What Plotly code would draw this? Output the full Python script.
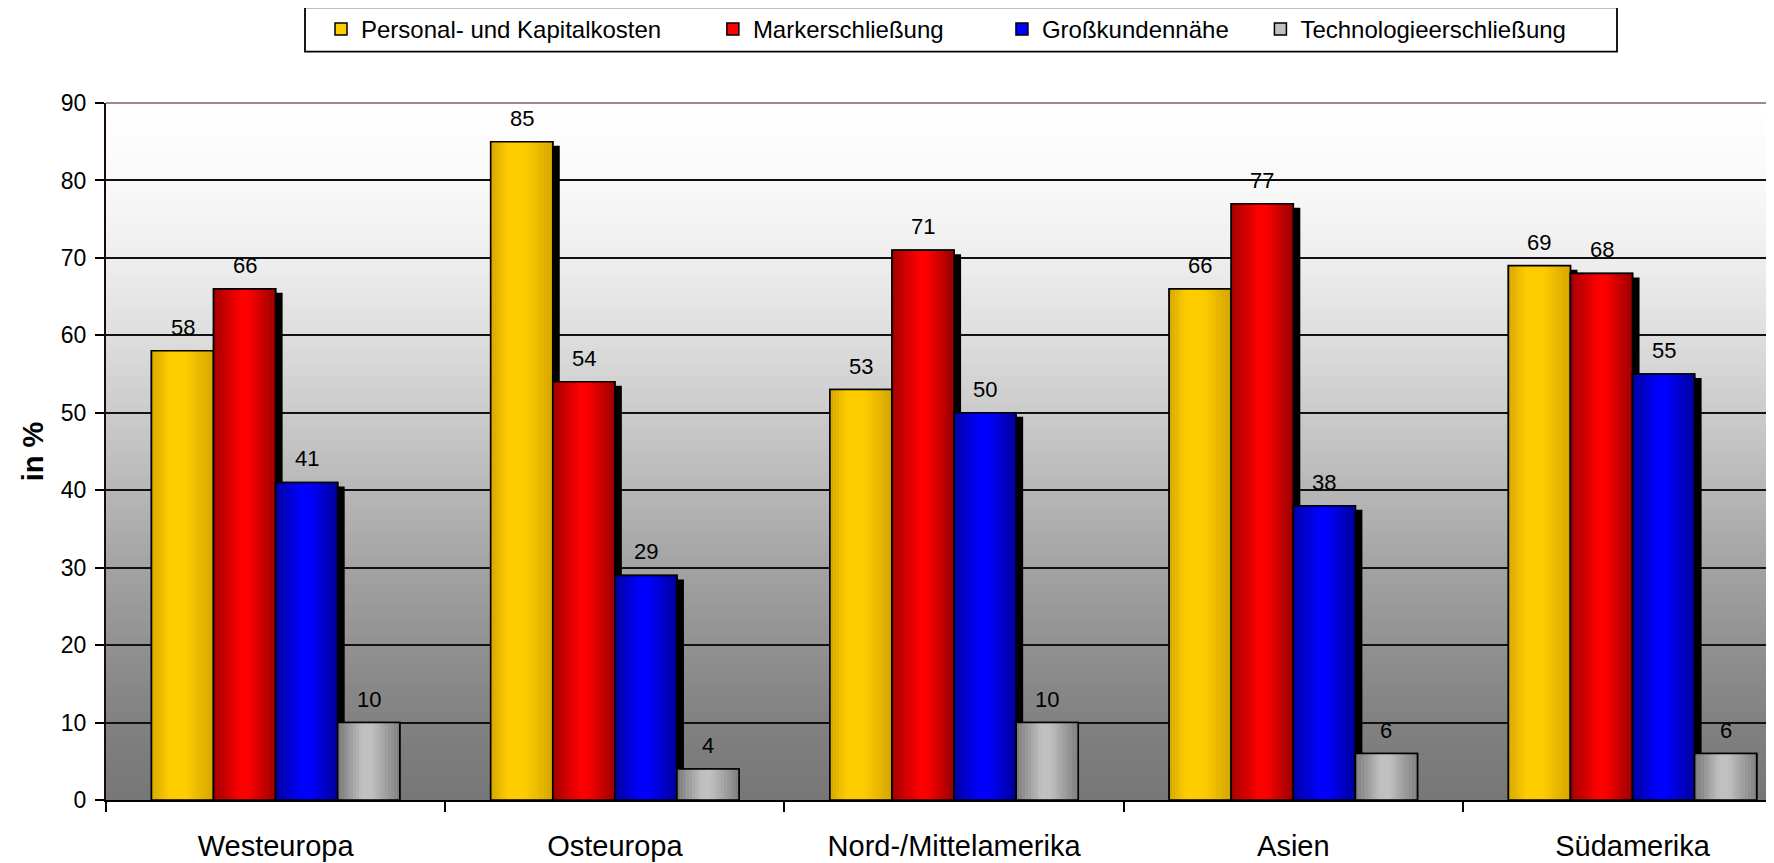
import plotly.graph_objects as go

# ---------------- data ----------------
categories = ["Westeuropa", "Osteuropa", "Nord-/Mittelamerika", "Asien", "Südamerika"]
series_names = ["Personal- und Kapitalkosten", "Markerschließung", "Großkundennähe", "Technologieerschließung"]
personal = [58, 85, 53, 66, 69]
markt = [66, 54, 71, 77, 68]
gross = [41, 29, 50, 38, 55]
tech = [10, 4, 10, 6, 6]
y_tickvals = [0, 10, 20, 30, 40, 50, 60, 70, 80, 90]
y_title = "in %"

values = [personal, markt, gross, tech]

# ---------------- layout geometry / styles ----------------
# page body has an 8px margin, so the figure is offset by 8px in the window
W, H = 1766, 855
ML, MR, MT, MB = 98, 0, 95, 63
X_RANGE = [-0.5, 4.417]
Y_RANGE = [0, 90]
PLOT_W = W - ML - MR
PLOT_H = H - MT - MB
px_per_cat = PLOT_W / (X_RANGE[1] - X_RANGE[0])
px_per_unit = PLOT_H / (Y_RANGE[1] - Y_RANGE[0])

BAR_W = 0.183
GROUP_START = -0.366
N_STRIPES = 20
SHADOW_DX = 7 / px_per_cat
SHADOW_DY = 4 / px_per_unit
FONT = "Liberation Sans, Arial, sans-serif"
LEGEND_PAD = [7, 8, 4, 0]  # trailing spaces between legend entries
LEGEND_BOX_PX = (297, 1609, -0.7, 43.7)  # x0, x1, y0(top), y1(bottom) in figure pixels

gradients = [
    [(0.0, (212, 166, 0)), (0.28, (255, 204, 0)), (0.55, (255, 204, 0)), (1.0, (210, 164, 0))],
    [(0.0, (160, 0, 0)), (0.45, (255, 0, 0)), (0.55, (255, 0, 0)), (1.0, (150, 0, 0))],
    [(0.0, (0, 0, 160)), (0.42, (0, 0, 255)), (0.55, (0, 0, 255)), (1.0, (0, 0, 150))],
    [(0.0, (120, 120, 120)), (0.4, (192, 192, 192)), (0.55, (192, 192, 192)), (1.0, (125, 125, 125))],
]
base_colors = ["#FFCC00", "#FF0000", "#0000FF", "#C0C0C0"]
has_shadow = [True, True, True, False]

bg_stops = [(0.0, 119), (0.111, 129), (0.222, 145), (0.333, 163), (0.444, 183),
            (0.556, 203), (0.667, 222), (0.778, 238), (0.889, 249), (1.0, 255)]


def interp(stops, t):
    for (t0, c0), (t1, c1) in zip(stops[:-1], stops[1:]):
        if t0 <= t <= t1:
            f = (t - t0) / (t1 - t0) if t1 > t0 else 0
            if isinstance(c0, tuple):
                return "rgb(%d,%d,%d)" % tuple(round(a + (b - a) * f) for a, b in zip(c0, c1))
            return round(c0 + (c1 - c0) * f)
    last = stops[-1][1]
    return "rgb(%d,%d,%d)" % last if isinstance(last, tuple) else last


fig = go.Figure()

for i, (name, vals) in enumerate(zip(series_names, values)):
    off = GROUP_START + i * BAR_W
    if has_shadow[i]:
        fig.add_bar(x=categories, y=[v - SHADOW_DY for v in vals], width=BAR_W,
                    offset=off + SHADOW_DX, marker=dict(color="black", line=dict(width=0)),
                    showlegend=False, hoverinfo="skip")
    fig.add_bar(x=categories, y=vals, name=name + "\u00a0" * LEGEND_PAD[i], width=BAR_W, offset=off,
                marker=dict(color=base_colors[i], line=dict(color="black", width=1.5)))
    for k in range(N_STRIPES):
        t = (k + 0.5) / N_STRIPES
        fig.add_bar(x=categories, y=vals, width=BAR_W / N_STRIPES + 0.0004,
                    offset=off + k * BAR_W / N_STRIPES,
                    marker=dict(color=interp(gradients[i], t), line=dict(width=0)),
                    showlegend=False, hoverinfo="skip")
    fig.add_bar(x=categories, y=vals, width=BAR_W, offset=off,
                marker=dict(color="rgba(0,0,0,0)", line=dict(color="black", width=1.6)),
                showlegend=False, hoverinfo="skip")
    for c, v in zip(categories, vals):
        fig.add_annotation(x=c, y=v, text=str(v), showarrow=False,
                           xshift=(off + BAR_W / 2) * px_per_cat, yshift=9,
                           yanchor="bottom", font=dict(family=FONT, size=22, color="black"))

# background gradient
shapes = []
NB = 120
for b in range(NB):
    t0, t1 = b / NB, (b + 1) / NB
    g = interp(bg_stops, (t0 + t1) / 2)
    shapes.append(dict(type="rect", xref="x domain", yref="y domain", x0=0, x1=1,
                       y0=t0, y1=min(1, t1 + 0.002), fillcolor="rgb(%d,%d,%d)" % (g, g, g),
                       line=dict(width=0), layer="below"))
# top border of plot area
shapes.append(dict(type="line", xref="x domain", yref="y domain", x0=0, x1=1, y0=1, y1=1,
                   line=dict(color="#A08888", width=2), layer="above"))
# legend box
lx0, lx1, ly0, ly1 = LEGEND_BOX_PX
shapes.append(dict(type="rect", xref="paper", yref="paper",
                   x0=(lx0 - ML) / PLOT_W, x1=(lx1 - ML) / PLOT_W,
                   y0=(H - MB - ly1) / PLOT_H, y1=(H - MB - ly0) / PLOT_H,
                   fillcolor="white", line=dict(color="black", width=1.8), layer="below"))

fig.update_layout(
    width=W, height=H,
    margin=dict(l=ML, r=MR, t=MT, b=MB, pad=0, autoexpand=False),
    paper_bgcolor="white", plot_bgcolor="rgba(0,0,0,0)",
    barmode="overlay",
    font=dict(family=FONT, color="black"),
    shapes=shapes,
    showlegend=True,
    legend=dict(orientation="h", x=(938 - ML) / PLOT_W, xanchor="center",
                y=(H - MB + 1) / PLOT_H, yanchor="top",
                bgcolor="rgba(0,0,0,0)", borderwidth=0,
                font=dict(family=FONT, size=24, color="black"), itemwidth=30,
                traceorder="normal"),
    xaxis=dict(type="category", range=X_RANGE, showgrid=False, zeroline=False, automargin=False,
               showline=True, linecolor="black", linewidth=2,
               ticks="outside", tickson="boundaries", ticklen=10, tickwidth=2, tickcolor="black",
               tickfont=dict(family=FONT, size=29, color="black"), ticklabelstandoff=19),
    yaxis=dict(range=Y_RANGE, tickvals=y_tickvals, showgrid=True, gridcolor="#111111", gridwidth=1.6,
               zeroline=False, showline=True, linecolor="#1a0a0a", linewidth=2, automargin=False,
               ticks="outside", ticklen=9, tickwidth=2, tickcolor="black",
               tickfont=dict(family=FONT, size=23, color="black"), ticklabelstandoff=4,
               title=dict(text="<b>" + y_title + "</b>", font=dict(family=FONT, size=29, color="black"),
                          standoff=9)),
)

fig.write_html("out.html")
